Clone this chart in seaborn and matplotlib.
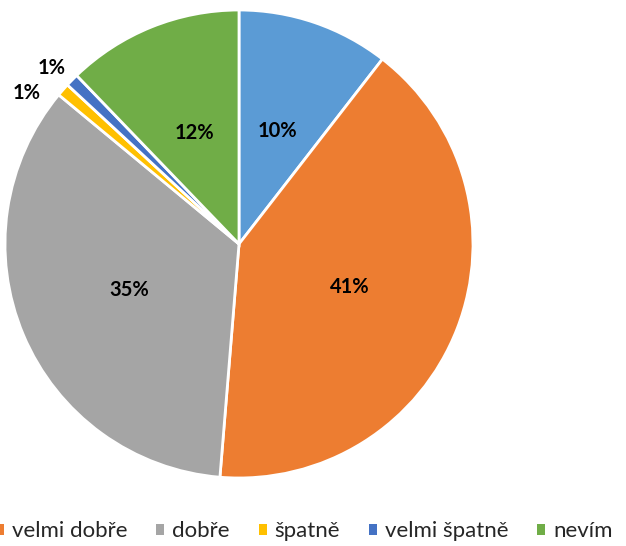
import numpy as np
import matplotlib.pyplot as plt
import seaborn as sns
from matplotlib.patches import Patch

sns.set_theme(style="white")
plt.rcParams['font.family'] = ['Lato', 'DejaVu Sans']

# --- data ---
categories = ["výborně", "velmi dobře", "dobře", "špatně", "velmi špatně", "nevím"]
shares = [10.5, 40.8, 34.7, 0.9, 0.9, 12.2]
labels = ["10%", "41%", "35%", "1%", "1%", "12%"]
colors = sns.color_palette(["#5B9BD5", "#ED7D31", "#A5A5A5", "#FFC000", "#4472C4", "#70AD47"])

fig = plt.figure(figsize=(6.26, 5.46), dpi=100)
ax = fig.add_axes([5 / 626, 68 / 546, 468 / 626, 468 / 546])

wedges, _ = ax.pie(shares, colors=colors, startangle=90, counterclock=False,
                   wedgeprops=dict(edgecolor="white", linewidth=2))
ax.set_xlim(-1, 1)
ax.set_ylim(-1, 1)

# percentage labels: big slices inside, tiny slices pushed outside
outside = {3: (1.115, 5.8), 4: (1.10, 1.3)}  # index -> (radius, angle shift in deg)
for i, (w, lab) in enumerate(zip(wedges, labels)):
    mid = (w.theta1 + w.theta2) / 2
    r, shift = outside.get(i, (0.51, 0.0))
    a = np.deg2rad(mid + shift)
    ax.text(r * np.cos(a), r * np.sin(a), lab, ha="center", va="center",
            fontsize=14.5, fontweight="bold", color="black")

# legend (first entry falls outside the picture in the original)
handles = [Patch(facecolor=c, edgecolor="none") for c in colors[1:]]
fig.legend(handles, categories[1:], loc="center left", bbox_to_anchor=(-0.021, 0.027),
           ncol=5, frameon=False, fontsize=16, handlelength=0.36, handleheight=0.36,
           handletextpad=0.36, columnspacing=1.3, borderaxespad=0)

fig.savefig("out.png", dpi=100)
